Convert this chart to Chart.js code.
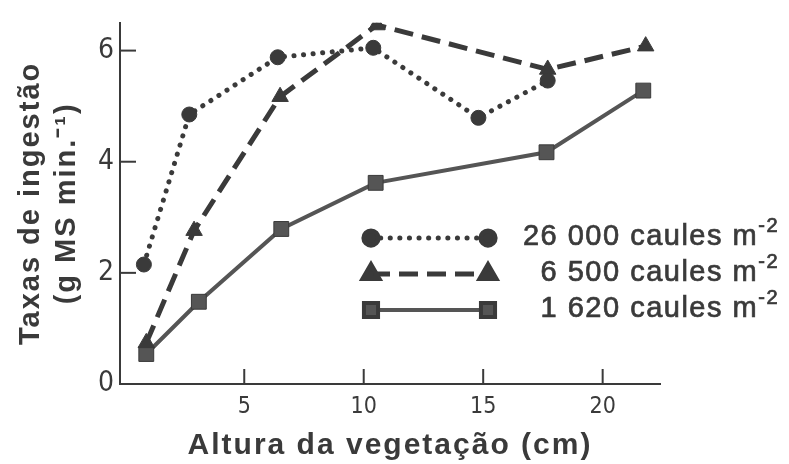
<!DOCTYPE html>
<html>
<head>
<meta charset="utf-8">
<title>Taxas de ingestão</title>
<script src="https://cdn.jsdelivr.net/npm/chart.js@4.4.1/dist/chart.umd.min.js"></script>
<style>
  html, body { margin: 0; padding: 0; background: #fff; }
  #wrap { width: 789px; height: 464px; }
</style>
</head>
<body>
<div id="wrap"><canvas id="intakeChart" width="789" height="464"></canvas></div>
<script>
// Altura da vegetação (cm) e taxa de ingestão para cada densidade de caules
const heightsDense = [0.8, 2.7, 6.4, 10.4, 14.8, 17.7];
const intakeDense = [2.15, 4.85, 5.88, 6.05, 4.79, 5.46];

const heightsMid = [0.9, 2.9, 6.5, 10.55, 17.7, 21.8];
const intakeMid = [0.74, 2.76, 5.17, 6.46, 5.66, 6.08];

const heightsSparse = [0.9, 3.1, 6.55, 10.5, 17.65, 21.7];
const intakeSparse = [0.54, 1.48, 2.79, 3.62, 4.17, 5.28];

const seriesLabels = ['26 000 caules m', '6 500 caules m', '1 620 caules m'];
const labelExponent = '-2';

const xTicks = [5, 10, 15, 20];
const yTicks = [0, 2, 4, 6];

const ink = '#3a3a3a';
const greyInk = '#555555';
const fontFamily = "'Liberation Sans', Arial, sans-serif";
const tickFamily = "'Liberation Sans Narrow', 'DejaVu Sans Condensed', sans-serif";

function toPoints(xs, ys) {
    return xs.map((x, i) => ({ x: x, y: ys[i] }));
}

const seriesStyles = [
    { color: ink, width: 5, dash: [0.1, 9.5], cap: 'round', point: 'circle', radius: 7.5 },
    { color: ink, width: 5, dash: [19, 9], cap: 'butt', point: 'triangle', radius: 9.5 },
    { color: greyInk, width: 4, dash: [], cap: 'butt', point: 'rect', radius: 10.5 }
];

// axis titles are set with looser tracking; tick labels are drawn later (z: 1) without it
const titleTracking = {
    id: 'titleTracking',
    beforeDraw(chart) { chart.ctx.letterSpacing = '2px'; },
    beforeDatasetsDraw(chart) { chart.ctx.letterSpacing = '0px'; }
};

// inward tick marks on both axes
const innerTicks = {
    id: 'innerTicks',
    afterDraw(chart) {
        const ctx = chart.ctx;
        const xs = chart.scales.x;
        const ys = chart.scales.y;
        ctx.save();
        ctx.strokeStyle = ink;
        ctx.lineWidth = 2;
        xTicks.forEach(v => {
            const px = xs.getPixelForValue(v);
            ctx.beginPath();
            ctx.moveTo(px, ys.bottom);
            ctx.lineTo(px, ys.bottom - 15);
            ctx.stroke();
        });
        yTicks.filter(v => v > 0).forEach(v => {
            const py = ys.getPixelForValue(v);
            ctx.beginPath();
            ctx.moveTo(xs.left, py);
            ctx.lineTo(xs.left + 16, py);
            ctx.stroke();
        });
        ctx.restore();
    }
};

// legend inside the plot, with the exponent set as superscript
const stemLegend = {
    id: 'stemLegend',
    afterDraw(chart) {
        const ctx = chart.ctx;
        const rowsY = [238, 274, 310];
        const lineLeft = 371, lineRight = 488, textRight = 779;
        ctx.save();
        chart.data.datasets.forEach((ds, i) => {
            const st = seriesStyles[i];
            const y = rowsY[i];
            ctx.letterSpacing = '0px';
            ctx.strokeStyle = st.color;
            ctx.lineWidth = st.width;
            ctx.lineCap = st.cap;
            ctx.setLineDash(st.dash);
            ctx.beginPath();
            ctx.moveTo(lineLeft, y);
            ctx.lineTo(lineRight, y);
            ctx.stroke();
            ctx.setLineDash([]);
            const pointOpts = { pointStyle: st.point, radius: st.radius * 0.95, borderWidth: 1 };
            ctx.fillStyle = st.color;
            ctx.strokeStyle = ink;
            Chart.helpers.drawPoint(ctx, pointOpts, lineLeft, y);
            Chart.helpers.drawPoint(ctx, pointOpts, lineRight, y);

            ctx.fillStyle = ink;
            ctx.strokeStyle = ink;
            ctx.lineWidth = 0.7;
            ctx.textBaseline = 'alphabetic';
            ctx.letterSpacing = '1.5px';
            ctx.font = '20px ' + fontFamily;
            const supW = ctx.measureText(labelExponent).width;
            ctx.font = '29px ' + fontFamily;
            const mainW = ctx.measureText(seriesLabels[i]).width;
            const x0 = textRight - supW - mainW;
            ctx.fillText(seriesLabels[i], x0, y + 7);
            ctx.strokeText(seriesLabels[i], x0, y + 7);
            ctx.font = '20px ' + fontFamily;
            ctx.fillText(labelExponent, x0 + mainW, y - 6);
            ctx.strokeText(labelExponent, x0 + mainW, y - 6);
        });
        ctx.restore();
    }
};

const datasets = [
    toPoints(heightsDense, intakeDense),
    toPoints(heightsMid, intakeMid),
    toPoints(heightsSparse, intakeSparse)
].map((pts, i) => {
    const st = seriesStyles[i];
    return {
        label: seriesLabels[i] + labelExponent,
        data: pts,
        borderColor: st.color,
        backgroundColor: st.color,
        borderWidth: st.width,
        borderDash: st.dash,
        borderCapStyle: st.cap,
        pointStyle: st.point,
        pointRadius: st.radius,
        pointBackgroundColor: st.color,
        pointBorderColor: ink,
        pointBorderWidth: 1,
        tension: 0,
        fill: false
    };
});

new Chart(document.getElementById('intakeChart'), {
    type: 'line',
    data: { datasets: datasets },
    options: {
        responsive: false,
        animation: false,
        layout: { padding: { left: 0, right: 129, top: 15, bottom: 0 } },
        plugins: {
            legend: { display: false },
            tooltip: { enabled: false }
        },
        scales: {
            x: {
                type: 'linear',
                min: -0.2,
                max: 22.4,
                afterFit(scale) { scale.height = 80; },
                afterBuildTicks(scale) { scale.ticks = xTicks.map(v => ({ value: v })); },
                grid: { display: true, drawOnChartArea: false, drawTicks: false },
                border: { display: true, color: ink, width: 2 },
                ticks: {
                    z: 1,
                    padding: 9,
                    color: ink,
                    font: { family: tickFamily, size: 23 }
                },
                title: {
                    display: true,
                    text: 'Altura da vegetação (cm)',
                    color: ink,
                    padding: { top: 0, bottom: 0 },
                    font: { family: fontFamily, size: 30, weight: 'bold', lineHeight: 1.2 }
                }
            },
            y: {
                type: 'linear',
                min: 0,
                max: 6.5,
                afterFit(scale) { scale.width = 120; },
                afterBuildTicks(scale) { scale.ticks = yTicks.map(v => ({ value: v })); },
                grid: { display: true, drawOnChartArea: false, drawTicks: false },
                border: { display: true, color: ink, width: 2 },
                ticks: {
                    z: 1,
                    padding: 6,
                    color: ink,
                    font: { family: tickFamily, size: 28 }
                },
                title: {
                    display: true,
                    text: ['Taxas de ingestão', '(g MS min.⁻¹)'],
                    color: ink,
                    padding: { top: 13, bottom: 0 },
                    font: { family: fontFamily, size: 29, weight: 'bold', lineHeight: 1.25 }
                }
            }
        }
    },
    plugins: [titleTracking, innerTicks, stemLegend]
});
</script>
</body>
</html>
